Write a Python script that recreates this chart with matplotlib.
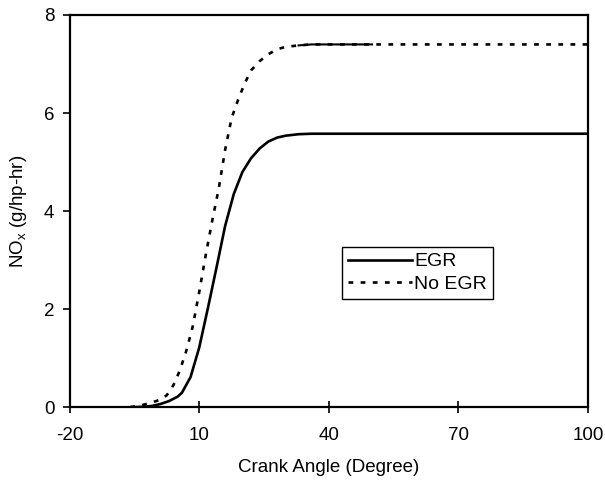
import matplotlib
matplotlib.use('Agg')
import matplotlib.pyplot as plt

plt.rcParams['font.family'] = ['Liberation Sans', 'DejaVu Sans']
plt.rcParams['mathtext.fontset'] = 'custom'
plt.rcParams['mathtext.rm'] = 'Liberation Sans'
plt.rcParams['mathtext.it'] = 'Liberation Sans'
plt.rcParams['axes.unicode_minus'] = False

# crank angle (deg) and cumulative NOx (g/hp-hr)
egr_angle = [-20, -7, -4, -1, 1, 3, 5, 6, 8, 10, 12, 14, 16, 18, 20, 22, 24, 26, 28, 30, 33, 36, 40, 50, 60, 70, 80, 90, 100]
egr_nox = [0, 0, 0.01, 0.03, 0.07, 0.13, 0.22, 0.3, 0.62, 1.22, 2.02, 2.85, 3.7, 4.35, 4.8, 5.08, 5.28, 5.42, 5.5, 5.54, 5.57, 5.58, 5.58, 5.58, 5.58, 5.58, 5.58, 5.58, 5.58]

noegr_angle = [-20, -7, -4, -1, 1, 2.5, 4, 5.5, 7, 8.5, 10, 11.5, 13, 14.5, 16, 17.5, 19, 20.5, 22, 24, 26, 28, 30, 33, 36, 40, 50, 60, 70, 80, 90, 100]
noegr_nox = [0, 0, 0.03, 0.1, 0.16, 0.25, 0.45, 0.75, 1.15, 1.65, 2.35, 3.1, 3.8, 4.45, 5.25, 5.9, 6.27, 6.6, 6.87, 7.06, 7.2, 7.3, 7.35, 7.38, 7.4, 7.4, 7.4, 7.4, 7.4, 7.4, 7.4, 7.4]

xticks = [-20, 10, 40, 70, 100]
yticks = [0, 2, 4, 6, 8]

fig = plt.figure(figsize=(6.05, 4.82), dpi=100)
ax = fig.add_axes([0.115, 0.1546, 0.857, 0.8143])

ax.plot(egr_angle, egr_nox, color='black', lw=1.9, label='EGR')
ax.plot(noegr_angle, noegr_nox, color='black', lw=1.9, dashes=(1.8, 2.8), label='No EGR')
# in the print the dotted line looks solid where the points are dense
dense = [(a, v) for a, v in zip(noegr_angle, noegr_nox) if 33 <= a <= 50]
ax.plot([d[0] for d in dense], [d[1] for d in dense], color='black', lw=1.5)

ax.set_xlim(-20, 100)
ax.set_ylim(0, 8)
ax.set_xticks(xticks)
ax.set_yticks(yticks)
ax.tick_params(axis='x', direction='inout', length=8, width=1.2, labelsize=13.5, pad=10, colors='black')
ax.tick_params(axis='y', direction='out', length=5, width=1.2, labelsize=13.5, pad=6)

for s in ax.spines.values():
    s.set_linewidth(1.6)
    s.set_color('black')

ax.set_xlabel('Crank Angle (Degree)', fontsize=13.5, labelpad=11)
ax.set_ylabel('NO$_\\mathrm{x}$ (g/hp-hr)', fontsize=13.5, labelpad=11)

leg = ax.legend(loc='upper left', bbox_to_anchor=(0.5255, 0.409), borderaxespad=0, fontsize=14,
                handlelength=3.3, handletextpad=0.1, borderpad=0.3, labelspacing=0.25,
                fancybox=False, edgecolor='black', framealpha=1)
leg.get_frame().set_linewidth(1.0)

fig.savefig('out.png', dpi=100)
